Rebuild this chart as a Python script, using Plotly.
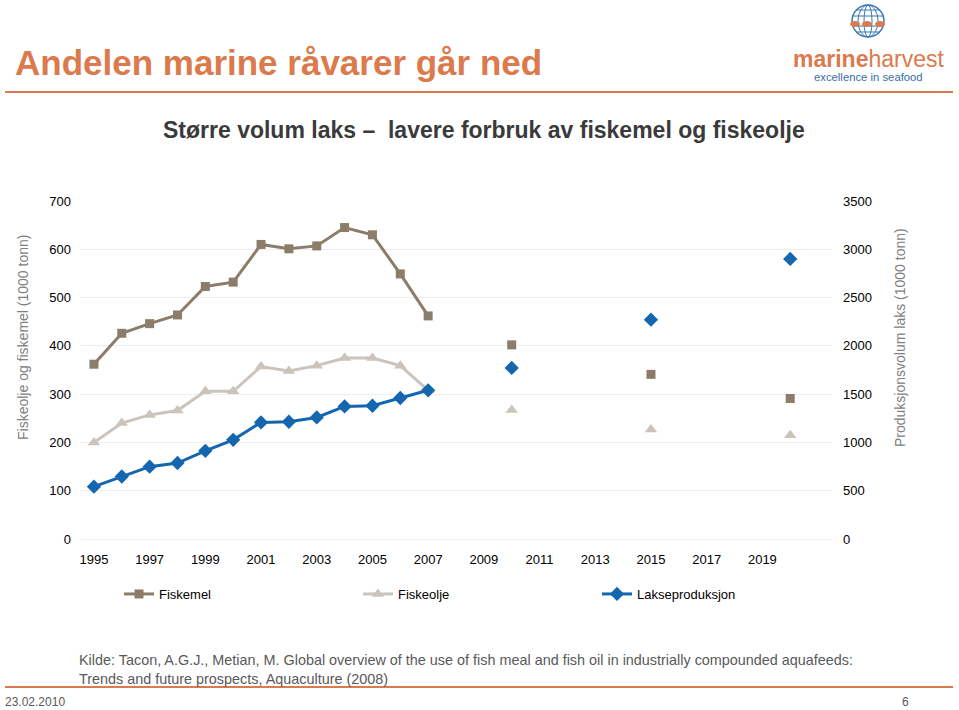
import plotly.graph_objects as go

years = list(range(1995, 2021))
fiskemel = [362, 426, 446, 464, 523, 532, 610, 601, 607, 645, 630, 549, 462,
            None, None, 402, None, None, None, None, 341, None, None, None, None, 291]
fiskeolje = [200, 240, 257, 266, 306, 306, 357, 348, 359, 375, 375, 359, 308,
             None, None, 267, None, None, None, None, 227, None, None, None, None, 215]
lakseproduksjon = [542, 647, 749, 787, 913, 1027, 1207, 1214, 1259, 1373, 1380, 1460, 1540,
                   None, None, 1772, None, None, None, None, 2271, None, None, None, None, 2900]
tick_years = list(range(1995, 2021, 2))
tick_labels = [str(y) for y in tick_years]

W, H = 959, 710
L, R, T, B = 80, 832, 201, 539

def px(x):
    return (x - L) / (R - L)

def py(y):
    return (B - y) / (B - T)

FONT = "Liberation Sans, Arial, sans-serif"
ORANGE = "#DB7A4D"
C_MEL = "#8C7D6A"
C_OLJE = "#CBC4BC"
C_LAKS = "#1467AE"

fig = go.Figure()
fig.add_trace(go.Scatter(x=years, y=fiskemel, name="Fiskemel", mode="lines+markers",
                         line=dict(color=C_MEL, width=3),
                         marker=dict(symbol="square", size=9, color=C_MEL),
                         connectgaps=False))
fig.add_trace(go.Scatter(x=years, y=fiskeolje, name="Fiskeolje", mode="lines+markers",
                         line=dict(color=C_OLJE, width=3),
                         marker=dict(symbol="triangle-up", size=11, color=C_OLJE),
                         connectgaps=False))
fig.add_trace(go.Scatter(x=years, y=lakseproduksjon, name="Lakseproduksjon", mode="lines+markers",
                         line=dict(color=C_LAKS, width=3),
                         marker=dict(symbol="diamond", size=11, color=C_LAKS),
                         connectgaps=False, yaxis="y2"))

def note(x, y, text, size, color, xanchor="center", **kw):
    return dict(x=px(x), y=py(y), xref="paper", yref="paper", text=text,
                xanchor=xanchor, yanchor="middle", showarrow=False,
                font=dict(family=FONT, size=size, color=color), **kw)

ann = [
    note(13, 62, "<b>Andelen marine råvarer går ned</b>", 35, ORANGE, "left"),
    note(484, 130, "<b>Større volum laks –  lavere forbruk av fiskemel og fiskeolje</b>", 23, "#3A3A3A"),
    note(23, 338, "Fiskeolje og fiskemel (1000 tonn)", 14, "#808080", textangle=-90),
    note(900, 338, "Produksjonsvolum laks (1000 tonn)", 14, "#808080", textangle=-90),
    note(77, 669, "Kilde: Tacon, A.G.J., Metian, M. Global overview of the use of fish meal and fish oil in industrially compounded aquafeeds:<br>Trends and future prospects, Aquaculture (2008)",
         14.4, "#595959", "left", align="left"),
    note(3, 702, "23.02.2010", 12, "#595959", "left"),
    note(911, 702, "6", 12, "#595959", "right"),
    note(868, 59, "<b>marine</b>harvest", 23, ORANGE),
    note(868, 77, "excellence in seafood", 11.3, "#3A6EA5"),
]

shapes = []
for yy in (92, 687):
    shapes.append(dict(type="line", xref="paper", yref="paper", x0=px(5), x1=px(953),
                       y0=py(yy), y1=py(yy), line=dict(color=ORANGE, width=2)))
# logo globe
GB = "#3A78B0"
cx, cy, r = 868, 21, 16
shapes.append(dict(type="circle", xref="paper", yref="paper", x0=px(cx - r), x1=px(cx + r),
                   y0=py(cy + r), y1=py(cy - r), line=dict(color=GB, width=1.5)))
for rx in (10, 4):
    shapes.append(dict(type="circle", xref="paper", yref="paper", x0=px(cx - rx), x1=px(cx + rx),
                       y0=py(cy + r), y1=py(cy - r), line=dict(color=GB, width=1)))
for dy in (-11, -5, 5, 11):
    hw = (r * r - dy * dy) ** 0.5
    shapes.append(dict(type="line", xref="paper", yref="paper", x0=px(cx - hw), x1=px(cx + hw),
                       y0=py(cy + dy), y1=py(cy + dy), line=dict(color=GB, width=1)))
for fx in (855, 867, 880):
    shapes.append(dict(type="circle", xref="paper", yref="paper", x0=px(fx - 5), x1=px(fx + 5),
                       y0=py(cy + 3 + 3), y1=py(cy + 3 - 3), fillcolor=ORANGE,
                       line=dict(color=ORANGE, width=0)))

fig.update_layout(
    width=W, height=H,
    margin=dict(l=L, r=W - R, t=T, b=H - B),
    paper_bgcolor="white", plot_bgcolor="white",
    font=dict(family=FONT, size=13, color="#000000"),
    showlegend=True,
    legend=dict(orientation="h", x=px(119), xanchor="left", y=py(594), yanchor="middle",
                font=dict(family=FONT, size=13, color="#000000"),
                entrywidth=194, entrywidthmode="pixels", itemwidth=30,
                bgcolor="rgba(0,0,0,0)"),
    xaxis=dict(range=[1994.5, 2021.5], tickmode="array", tickvals=tick_years, ticktext=tick_labels,
               showgrid=False, zeroline=False, showline=False, ticks="",
               ticklabelstandoff=11, tickfont=dict(size=13)),
    yaxis=dict(range=[0, 700], tickmode="linear", tick0=0, dtick=100,
               showgrid=True, gridcolor="#EEEEEE", gridwidth=1,
               zeroline=True, zerolinecolor="#EEEEEE", zerolinewidth=1,
               showline=False, ticks="", ticklabelstandoff=8, tickfont=dict(size=13)),
    yaxis2=dict(range=[0, 3500], tickmode="linear", tick0=0, dtick=500, overlaying="y", side="right",
                showgrid=False, zeroline=False, showline=False, ticks="",
                ticklabelstandoff=10, tickfont=dict(size=13)),
    annotations=ann, shapes=shapes,
)

fig.write_html("out.html", config={"displayModeBar": False},
               post_script="document.body.style.margin='0';")
